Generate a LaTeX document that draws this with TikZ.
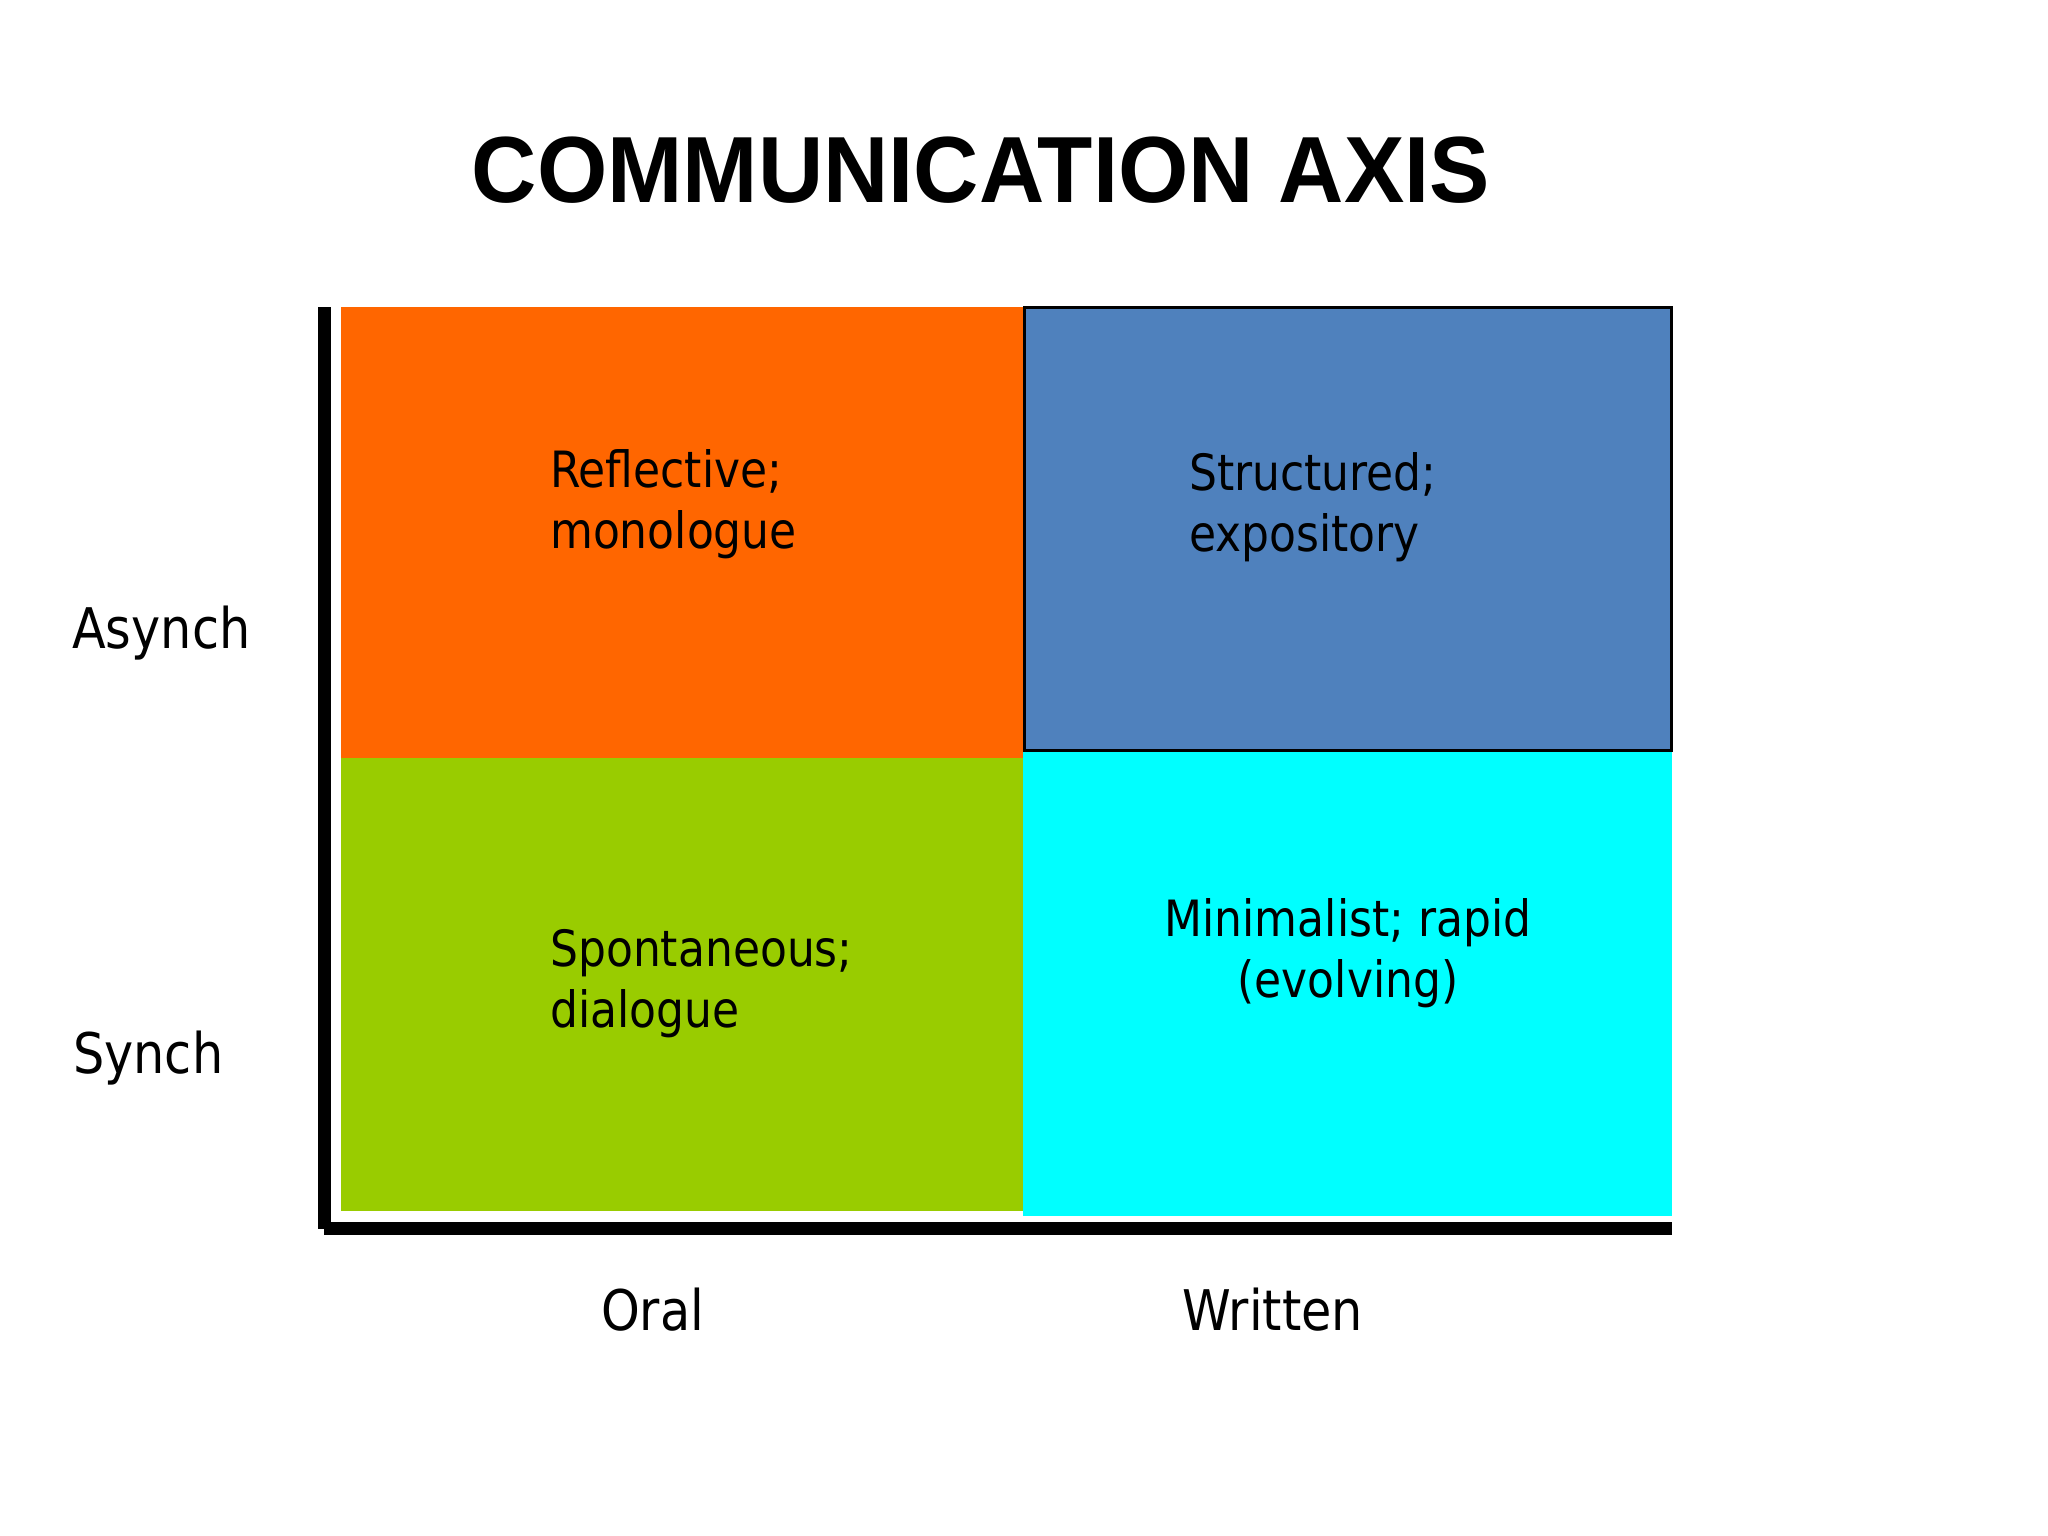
\documentclass[tikz,border=0pt]{standalone}
\usepackage{fontspec}
\setmainfont{DejaVu Sans}[FakeStretch=0.88]
\newfontfamily\titlefont{Liberation Sans}[FakeStretch=0.962]
\definecolor{qorange}{HTML}{FF6600}
\definecolor{qblue}{HTML}{4F81BD}
\definecolor{qgreen}{HTML}{99CC00}
\definecolor{qcyan}{HTML}{00FFFF}
\tikzset{
  qlabel/.style={anchor=base west, inner sep=0pt, font=\fontsize{50}{60}\selectfont},
  qlabelc/.style={anchor=base, inner sep=0pt, font=\fontsize{50}{60}\selectfont},
  axlabel/.style={anchor=base west, inner sep=0pt, font=\fontsize{56}{66}\selectfont},
  titlestyle/.style={anchor=base, inner sep=0pt, font=\titlefont\bfseries\fontsize{94}{110}\selectfont}
}
\begin{document}
\begin{tikzpicture}[x=1pt,y=-1pt]
\useasboundingbox[fill=white] (0,0) rectangle (2048,1536);
% title
\node[titlestyle] (title) at (981,202) {COMMUNICATION AXIS};
% quadrants
\fill[qorange] (341,307) rectangle (1023,758);
\fill[qgreen] (341,758) rectangle (1023,1211);
\fill[qcyan] (1023,751) rectangle (1672,1216);
\filldraw[fill=qblue, draw=black, line width=2.5pt] (1024.5,307.5) rectangle (1671.5,750.5);
% axes
\fill[black] (318,307) rectangle (331,1229);
\fill[black] (324,1222) rectangle (1672,1235);
% quadrant texts
\node[qlabel] (refl1) at (550,487) {Reflective;};
\node[qlabel] (refl2) at (550,548) {monologue};
\node[qlabel] (stru1) at (1189,490) {Structured;};
\node[qlabel] (stru2) at (1189,551) {expository};
\node[qlabel] (spon1) at (550,966) {Spontaneous;};
\node[qlabel] (spon2) at (550,1027) {dialogue};
\node[qlabelc] (mini1) at (1348,936) {Minimalist; rapid};
\node[qlabelc] (mini2) at (1348,997) {(evolving)};
% axis labels
\node[axlabel] (asynch) at (72,648) {Asynch};
\node[axlabel] (synch) at (73,1073) {Synch};
\node[axlabel] (oral) at (601,1330) {Oral};
\node[axlabel] (written) at (1182,1330) {Written};
\end{tikzpicture}
\end{document}
